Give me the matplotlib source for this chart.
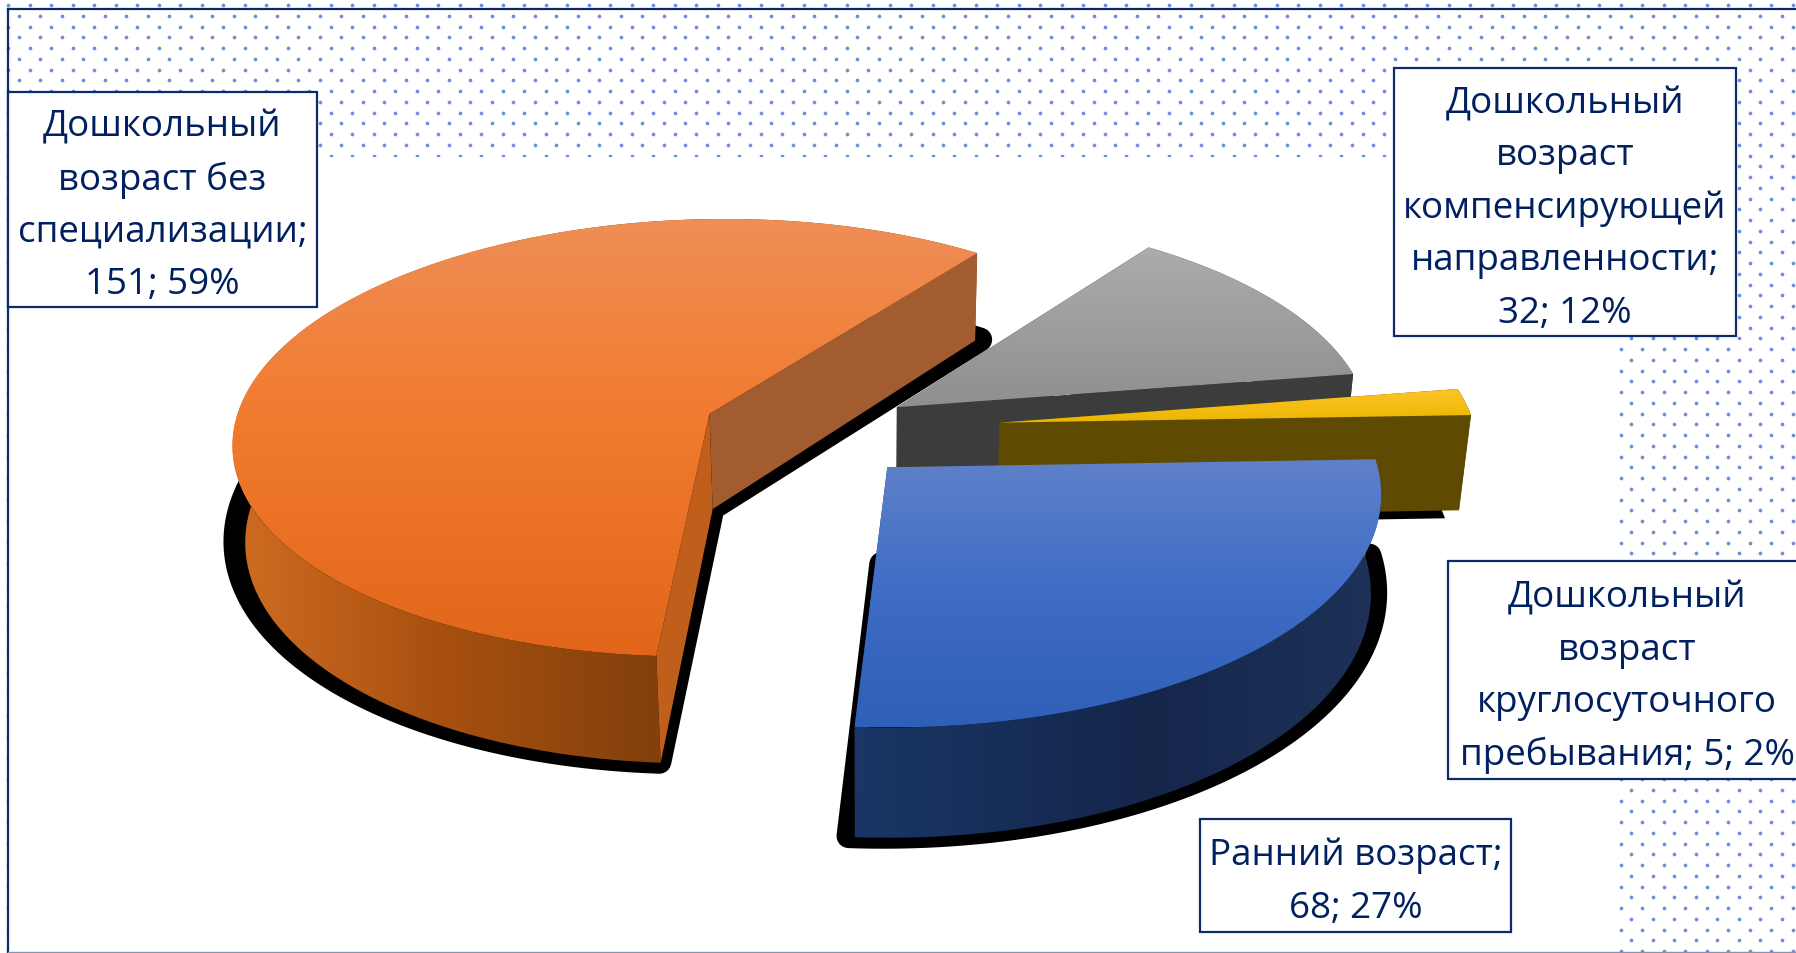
import numpy as np
import matplotlib
matplotlib.use("Agg")
import matplotlib.pyplot as plt
from matplotlib.colors import LinearSegmentedColormap
from matplotlib.patches import Polygon, Rectangle

plt.rcParams['font.family'] = ['Open Sans', 'DejaVu Sans']

# data, clockwise from the slice start angle
categories = ['Ранний возраст', 'Дошкольный возраст без специализации',
              'Дошкольный возраст компенсирующей направленности',
              'Дошкольный возраст круглосуточного пребывания']
values = [68, 151, 32, 5]
percents = [27, 59, 12, 2]
label_lines = [
    ['Ранний возраст;', '68; 27%'],
    ['Дошкольный', 'возраст без', 'специализации;', '151; 59%'],
    ['Дошкольный', 'возраст', 'компенсирующей', 'направленности;', '32; 12%'],
    ['Дошкольный', 'возраст', 'круглосуточного', 'пребывания; 5; 2%'],
]

# styling
explode = [0.226, 0.232, 0.21, 0.397]
radius_scale = [1.012, 1.0, 1.0, 1.0]
start_angle = 88.0
R, K, P, XC, CX, CY, H, BASE = 476.0, 0.462, 0.11, 870.0, 812.0, 432.0, 96.0, 0.98
top_cols = [[(0, '#5F81C9'), (0.5, '#3F6CC6'), (1, '#2F5FB7')],
            [(0, '#EE8E56'), (0.45, '#F27B2F'), (1, '#E1661A')],
            [(0, '#ACACAC'), (1, '#8F8F8F')],
            [(0, '#FCC426'), (1, '#EBB600')]]
side_cols = [[(0, '#1A3666'), (0.55, '#14264A'), (1, '#1E3259')],
             [(0, '#D06C22'), (0.28, '#A85010'), (0.57, '#82400C'), (1, '#82400C')],
             [(0, '#3C3C3C'), (1, '#3C3C3C')],
             [(0, '#5E4A00'), (1, '#5E4A00')]]
end_edge_cols = ['#1A3666', '#A35C30', '#3C3C3C', '#5E4A00']    # face at the end of the sweep
start_edge_cols = ['#5E4A00', '#BF5F1B', '#3C3C3C', '#5E4A00']  # face at the start of the sweep
shadow_r = [12, 12, 0, 0]
shadow_dx = [-6, 3, 0, -26]
shadow_dy = [-1, -1, 8, 8]
boxes = [(1200, 820, 1511, 933), (8, 93, 317, 308), (1394, 69, 1736, 337), (1448, 562, 1806, 780)]
TEXT = '#002060'
LINE = '#0B2A6B'
PITCH = 52.5
TEXT_SHIFT = 6.0

fig = plt.figure(figsize=(17.96, 9.54), dpi=100, facecolor='white')
ax = fig.add_axes([0, 0, 1, 1])
ax.axis('off')

# dotted background
rows = np.arange(0, 90)
xs, ys = [], []
for r in rows:
    col = 8 + (r % 2) * 10.75 + 21.5 * np.arange(0, 85)
    xs.extend(col)
    ys.extend(np.full(col.shape, 6 + 10.75 * r))
ax.scatter(xs, ys, s=7, color='#6B8EDB', linewidths=0, zorder=1)
ax.add_patch(Rectangle((9, 158), 1609, 800, fc='white', ec='none', zorder=2))
ax.plot([8, 8], [10, 954], color=LINE, lw=1.6, zorder=3)
ax.plot([8, 1796], [10, 10], color=LINE, lw=1.6, zorder=3)
ax.plot([8, 1796], [953, 953], color='#8A94AD', lw=1.0, zorder=3)


def project(x, y):
    w = 1 - P * y
    return XC + (CX + R * x - XC) / w, CY + K * R * y / w, w


def base(sx, sy, w):
    return XC + (sx - XC) * BASE, sy + H / w


def gradient(poly, stops, vertical, z):
    poly = np.asarray(poly)
    x0, x1 = poly[:, 0].min(), poly[:, 0].max()
    y0, y1 = poly[:, 1].min(), poly[:, 1].max()
    cmap = LinearSegmentedColormap.from_list('g', stops)
    t = np.linspace(0, 1, 256)
    arr = t[:, None] if vertical else t[None, :]
    im = ax.imshow(arr, cmap=cmap, extent=(x0, x1, y1, y0), aspect='auto',
                   interpolation='bilinear', zorder=z)
    im.set_clip_path(Polygon(poly, closed=True, transform=ax.transData))


fracs = np.array(values) / sum(values) * 360
starts = start_angle + np.concatenate(([0], np.cumsum(fracs)[:-1]))
draw_order = [1, 2, 3, 0]
for n, i in enumerate(draw_order):
    a0, a1 = starts[i], starts[i] + fracs[i]
    mid = np.radians((a0 + a1) / 2)
    ox, oy = explode[i] * np.sin(mid), -explode[i] * np.cos(mid)
    th = np.radians(np.linspace(a0, a1, 160))
    px = ox + radius_scale[i] * np.sin(th)
    py = oy - radius_scale[i] * np.cos(th)
    sx, sy, w = project(px, py)
    ax0, ay0, aw = project(ox, oy)
    bx, by = base(sx, sy, w)
    abx, aby = base(ax0, ay0, aw)
    z = 10 + n * 5

    # ground shadow, wider than the base
    sh = np.column_stack((np.r_[ax0, sx] + shadow_dx[i], np.r_[aby, by] + shadow_dy[i]))
    ax.add_patch(Polygon(sh, closed=True, fc='black', ec='black', lw=shadow_r[i] * 2 * 0.72,
                         joinstyle='round', zorder=z))
    # outer wall
    wall = np.column_stack((np.r_[sx, bx[::-1]], np.r_[sy, by[::-1]]))
    gradient(wall, side_cols[i], False, z + 1)
    # cut faces
    ax.add_patch(Polygon([(ax0, ay0), (sx[0], sy[0]), (bx[0], by[0]), (abx, aby)],
                         fc=start_edge_cols[i], ec='none', zorder=z + 2))
    ax.add_patch(Polygon([(ax0, ay0), (sx[-1], sy[-1]), (bx[-1], by[-1]), (abx, aby)],
                         fc=end_edge_cols[i], ec='none', zorder=z + 2))
    # top
    gradient(np.column_stack((np.r_[ax0, sx], np.r_[ay0, sy])), top_cols[i], True, z + 3)

# data labels
for lines, (x0, y0, x1, y1) in zip(label_lines, boxes):
    ax.add_patch(Rectangle((x0, y0), x1 - x0, y1 - y0, fc='white', ec=LINE, lw=1.6, zorder=40))
    yc = (y0 + y1) / 2 + TEXT_SHIFT
    for j, line in enumerate(lines):
        ax.text((x0 + x1) / 2, yc + (j - (len(lines) - 1) / 2) * PITCH, line, color=TEXT,
                fontsize=26.5, ha='center', va='center', zorder=41, clip_on=False)

ax.set_xlim(0, 1796)
ax.set_ylim(954, 0)
fig.savefig('out.png', dpi=100, facecolor='white')
